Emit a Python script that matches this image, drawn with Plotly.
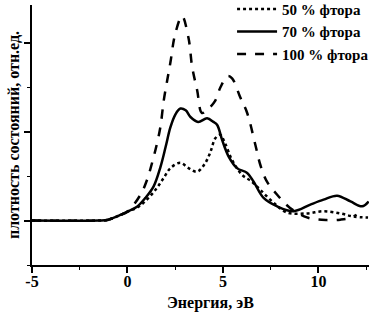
import plotly.graph_objects as go

# 50 % фтора (dotted)
x50 = [-5, -1.5, -1.0, -0.4, 0.0, 0.58, 1.1, 1.55, 1.9, 2.25, 2.77, 3.2, 3.65, 4.08, 4.35, 4.6, 4.85, 5.1, 5.48, 6.0, 6.5, 6.96, 7.65, 8.36, 9.4, 10.27, 11.15, 11.84, 12.6]
y50 = [0, 0, 0.02, 0.12, 0.2, 0.31, 0.51, 0.74, 0.96, 1.18, 1.3, 1.18, 1.1, 1.3, 1.55, 1.85, 1.93, 1.75, 1.36, 1.03, 0.88, 0.69, 0.4, 0.18, 0.16, 0.21, 0.16, 0.09, 0.07]

# 70 % фтора (solid)
x70 = [-5, -1.5, -1.0, -0.4, 0.0, 0.5, 0.94, 1.37, 1.73, 2.0, 2.25, 2.5, 2.77, 3.05, 3.3, 3.7, 4.17, 4.5, 4.7, 4.96, 5.3, 5.74, 6.27, 6.6, 7.13, 7.84, 8.7, 9.58, 10.27, 10.98, 11.68, 12.29, 12.63]
y70 = [0, 0, 0.02, 0.12, 0.2, 0.31, 0.51, 0.77, 1.21, 1.66, 2.1, 2.38, 2.52, 2.48, 2.33, 2.22, 2.3, 2.22, 2.15, 1.81, 1.44, 1.18, 1.07, 0.88, 0.51, 0.32, 0.21, 0.36, 0.47, 0.56, 0.43, 0.32, 0.43]

# 100 % фтора (dashed)
x100 = [-5, -1.5, -1.0, -0.4, 0.0, 0.68, 1.03, 1.29, 1.55, 1.73, 1.9, 2.08, 2.25, 2.5, 2.86, 3.2, 3.39, 3.65, 3.9, 4.2, 4.6, 4.87, 5.25, 5.48, 5.9, 6.27, 6.7, 6.96, 7.3, 7.84, 8.5, 9.4, 10.45, 11.15, 11.6, 12.0]
y100 = [0, 0, 0.02, 0.12, 0.2, 0.58, 0.92, 1.3, 1.74, 2.12, 2.7, 3.15, 3.56, 4.2, 4.6, 4.1, 3.45, 2.93, 2.42, 2.5, 2.7, 3.0, 3.25, 3.2, 2.78, 2.42, 1.7, 1.25, 0.88, 0.58, 0.29, 0.07, 0.01, 0.02, 0.05, 0.13]

names = ["50 % фтора", "70 % фтора", "100 % фтора"]
x_title = "Энергия, эВ"
y_title = "плотность состояний, отн.ед."

FONT = "Liberation Serif"

fig = go.Figure()
fig.add_trace(go.Scatter(x=x50, y=y50, name=names[0], mode="lines", line_shape="spline",
                         line=dict(color="black", width=2.5, dash="dot")))
fig.add_trace(go.Scatter(x=x70, y=y70, name=names[1], mode="lines", line_shape="spline",
                         line=dict(color="black", width=2.5, dash="solid")))
fig.add_trace(go.Scatter(x=x100, y=y100, name=names[2], mode="lines", line_shape="spline",
                         line=dict(color="black", width=2.5, dash="dash")))

fig.add_annotation(text=x_title, xref="paper", yref="paper", x=0.53, y=-0.145,
                   xanchor="center", yanchor="middle", showarrow=False, borderpad=0,
                   font=dict(family=FONT, size=16, color="black", weight="bold"))

fig.update_layout(
    width=374, height=313,
    margin=dict(l=32, r=5, t=5, b=48, autoexpand=False),
    plot_bgcolor="white", paper_bgcolor="white",
    font=dict(family=FONT, size=16, color="black", weight="bold"),
    showlegend=True,
    legend=dict(x=1.015, y=1.047, xanchor="right", yanchor="top", bgcolor="rgba(0,0,0,0)",
                font=dict(family=FONT, size=15, color="black", weight="bold"),
                tracegroupgap=0, itemwidth=40),
    xaxis=dict(range=[-5, 12.65], tickmode="array", tickvals=[-5, 0, 5, 10],
               ticktext=["-5", "0", "5", "10"], automargin=False,
               showline=True, linecolor="black", linewidth=2, ticks="outside",
               ticklen=6, tickwidth=2, tickcolor="black", showgrid=False, zeroline=False,
               ticklabelstandoff=-5,
               minor=dict(ticks="outside", ticklen=3, tickwidth=1, dtick=2.5, tick0=0, tickcolor="black"),
               tickfont=dict(family=FONT, size=16, color="black", weight="bold")),
    yaxis=dict(range=[-1, 4.85], tickmode="linear", tick0=0, dtick=2, showticklabels=False,
               automargin=False,
               showline=True, linecolor="black", linewidth=2, ticks="outside",
               ticklen=6, tickwidth=2, tickcolor="black", showgrid=False, zeroline=False,
               minor=dict(ticks="outside", ticklen=3, tickwidth=1, dtick=1, tick0=0, tickcolor="black"),
               title=dict(text=y_title, standoff=0,
                          font=dict(family=FONT, size=16, color="black", weight="bold"))),
)

fig.write_html("out.html", config={"displayModeBar": False},
               post_script="document.body.style.margin='0';document.body.style.overflow='hidden';")
